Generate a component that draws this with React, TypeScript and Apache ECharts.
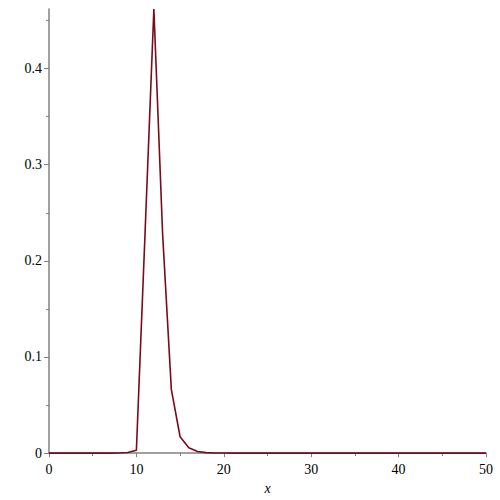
import React, { useEffect, useRef } from "react";
import * as echarts from "echarts";

const xValues = [
  0, 1, 2, 3, 4, 5, 6, 7, 8, 9, 10, 11, 12, 13, 14, 15, 16, 17, 18, 19, 20,
  21, 22, 23, 24, 25, 26, 27, 28, 29, 30, 31, 32, 33, 34, 35, 36, 37, 38, 39,
  40, 41, 42, 43, 44, 45, 46, 47, 48, 49, 50,
];
const yValues = [
  0, 0, 0, 0, 0, 0, 0, 0.00002, 0.0001, 0.0006, 0.003, 0.231, 0.462, 0.228,
  0.066, 0.017, 0.0055, 0.0017, 0.0005, 0.00015, 0.00004, 0, 0, 0, 0, 0, 0,
  0, 0, 0, 0, 0, 0, 0, 0, 0, 0, 0, 0, 0, 0, 0, 0, 0, 0, 0, 0, 0, 0, 0, 0,
];
const yMajorTicks = [0, 0.1, 0.2, 0.3, 0.4];
const yMinorTicks = [0.05, 0.15, 0.25, 0.35, 0.45];

export default function App() {
  const ref = useRef<HTMLDivElement>(null);
  useEffect(() => {
    if (!ref.current) return;
    const chart = echarts.init(ref.current, null, { renderer: "svg" });
    const axisColor = "#808080";
    const font = "'Liberation Serif', 'DejaVu Serif', serif";
    chart.setOption({
      animation: false,
      backgroundColor: "#ffffff",
      grid: { left: 49, right: 14, top: 9, bottom: 45 },
      xAxis: {
        type: "value",
        min: 0,
        max: 50,
        interval: 10,
        name: "x",
        nameLocation: "middle",
        nameGap: 27,
        nameTextStyle: {
          fontFamily: font,
          fontStyle: "italic",
          fontSize: 14,
          color: "#000",
        },
        axisLine: { lineStyle: { color: axisColor, width: 1.5 } },
        axisTick: { length: 4, lineStyle: { color: axisColor } },
        minorTick: {
          show: true,
          splitNumber: 2,
          length: 3,
          lineStyle: { color: axisColor },
        },
        splitLine: { show: false },
        axisLabel: {
          fontFamily: font,
          fontSize: 14,
          color: "#000",
          margin: 9,
        },
      },
      yAxis: [
        {
          type: "value",
          min: 0,
          max: 0.462,
          position: "left",
          axisLine: { show: true, lineStyle: { color: axisColor, width: 1.5 } },
          axisTick: {
            show: true,
            length: 5,
            customValues: yMajorTicks,
            lineStyle: { color: axisColor },
          },
          splitLine: { show: false },
          axisLabel: {
            customValues: yMajorTicks,
            fontFamily: font,
            fontSize: 14,
            color: "#000",
            margin: 7,
          },
        },
        {
          type: "value",
          min: 0,
          max: 0.462,
          position: "left",
          offset: 0,
          axisLine: { show: false },
          axisTick: {
            show: true,
            length: 3,
            customValues: yMinorTicks,
            lineStyle: { color: axisColor },
          },
          splitLine: { show: false },
          axisLabel: { show: false },
        },
      ],
      series: [
        {
          type: "line",
          yAxisIndex: 0,
          data: xValues.map((x, i) => [x, yValues[i]]),
          showSymbol: false,
          lineStyle: { color: "#7a0a1c", width: 1.6 },
          itemStyle: { color: "#7a0a1c" },
          clip: false,
        },
      ],
    });
    return () => chart.dispose();
  }, []);
  return (
    <div
      ref={ref}
      style={{ position: "fixed", left: 0, top: 0, width: 500, height: 500 }}
    />
  );
}
